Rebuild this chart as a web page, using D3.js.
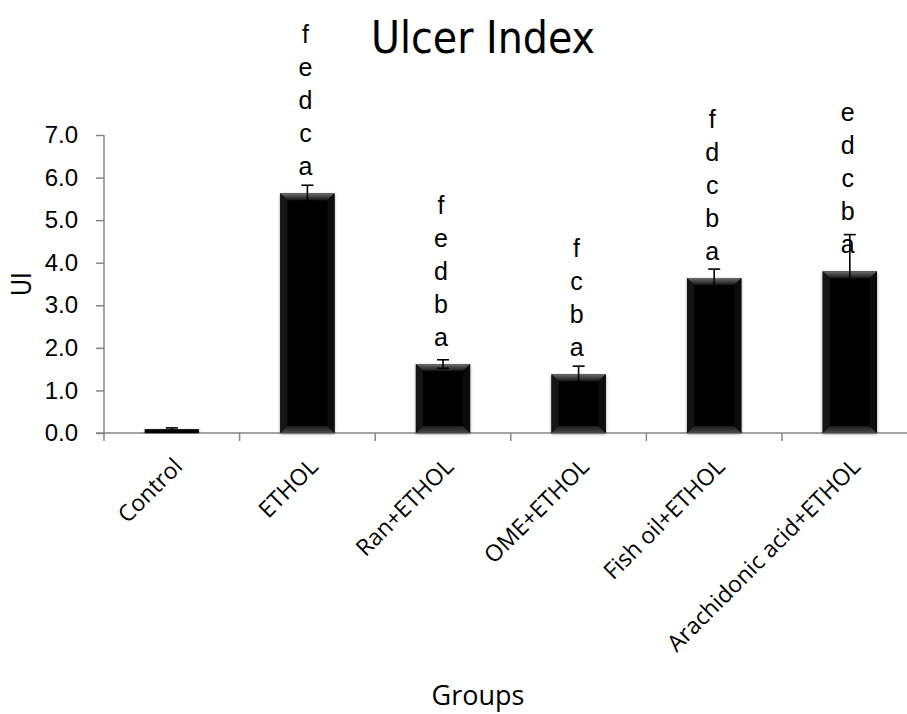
<!DOCTYPE html>
<html>
<head>
<meta charset="utf-8">
<script src="https://cdn.jsdelivr.net/npm/d3@7/dist/d3.min.js"></script>
<style>
  html, body { margin: 0; padding: 0; background: #fff; }
  svg { display: block; }
</style>
</head>
<body>
<svg id="chart" width="907" height="714"></svg>
<script>
// Ulcer index per treatment group (mean with error bars and significance letters)
const groups = ["Control", "ETHOL", "Ran+ETHOL", "OME+ETHOL", "Fish oil+ETHOL", "Arachidonic acid+ETHOL"];
const ulcerIndex = [0.09, 5.63, 1.62, 1.38, 3.64, 3.80];
const errPlus = [0.03, 0.19, 0.10, 0.19, 0.21, 0.86];
const errMinus = [0.03, 0.19, 0.10, 0.19, 0.21, 0.74];
const sigLetters = [[], ["f", "e", "d", "c", "a"], ["f", "e", "d", "b", "a"], ["f", "c", "b", "a"], ["f", "d", "c", "b", "a"], ["e", "d", "c", "b", "a"]];
const yTicks = [0, 1, 2, 3, 4, 5, 6, 7];

const svg = d3.select("#chart");
const width = 907, height = 714;
const x0 = 104, yBase = 433, yTop = 135;
const step = 135.6;

const x = d3.scaleBand()
  .domain(groups)
  .range([x0, x0 + step * groups.length])
  .paddingInner(0.6)
  .paddingOuter(0.3);

const y = d3.scaleLinear().domain([0, 7]).range([yBase, yTop]);

const axisColor = "#868686";
const narrow = "'Liberation Sans Narrow', 'DejaVu Sans Condensed', 'Liberation Sans', sans-serif";
const arial = "'Liberation Sans', Arial, sans-serif";
const sans = "'Open Sans', 'Noto Sans', sans-serif";

// Gradients / filter for the bevelled bars
const defs = svg.append("defs");
const gTop = defs.append("linearGradient").attr("id", "bevelTop").attr("x1", 0).attr("y1", 0).attr("x2", 0).attr("y2", 1);
gTop.append("stop").attr("offset", "0%").attr("stop-color", "#6e6e6e");
gTop.append("stop").attr("offset", "100%").attr("stop-color", "#141414");
const gBot = defs.append("linearGradient").attr("id", "bevelBot").attr("x1", 0).attr("y1", 0).attr("x2", 0).attr("y2", 1);
gBot.append("stop").attr("offset", "0%").attr("stop-color", "#1a1a1a");
gBot.append("stop").attr("offset", "100%").attr("stop-color", "#4a4a4a");
const shadow = defs.append("filter").attr("id", "barShadow").attr("x", "-20%").attr("y", "-20%").attr("width", "140%").attr("height", "140%");
shadow.append("feDropShadow").attr("dx", 0).attr("dy", 1).attr("stdDeviation", 1.6)
  .attr("flood-color", "#000").attr("flood-opacity", 0.45);

// Title
svg.append("text")
  .attr("x", 483).attr("y", 53)
  .attr("text-anchor", "middle")
  .attr("font-family", narrow)
  .attr("font-size", 44)
  .attr("fill", "#000")
  .text("Ulcer Index");

// Y axis
const yAxis = svg.append("g").attr("transform", `translate(${x0},0)`)
  .call(d3.axisLeft(y).tickValues(yTicks).tickFormat(d3.format(".1f")).tickSize(8).tickPadding(18));
yAxis.select(".domain").attr("stroke", axisColor).attr("stroke-width", 1.5).attr("d", `M0,${yTop}V${yBase}`);
yAxis.selectAll(".tick line").attr("stroke", axisColor).attr("stroke-width", 1.5);
yAxis.selectAll(".tick text")
  .attr("font-family", arial)
  .attr("font-size", 24).attr("fill", "#000");

// Y axis title
svg.append("text")
  .attr("transform", `translate(31,${(yBase + yTop) / 2}) rotate(-90)`)
  .attr("text-anchor", "middle")
  .attr("font-family", narrow)
  .attr("font-size", 26)
  .text("UI");

// X axis line and category boundary ticks
const boundaries = d3.range(groups.length + 1).map(i => x0 + i * x.step());
svg.append("line")
  .attr("x1", x0 - 8).attr("x2", width).attr("y1", yBase).attr("y2", yBase)
  .attr("stroke", axisColor).attr("stroke-width", 1.5);
svg.selectAll(".xtick").data(boundaries).join("line")
  .attr("class", "xtick")
  .attr("x1", d => d).attr("x2", d => d)
  .attr("y1", yBase).attr("y2", yBase + 8)
  .attr("stroke", axisColor).attr("stroke-width", 1.5);

// Bars with bevel
const data = groups.map((g, i) => ({ g, v: ulcerIndex[i], ep: errPlus[i], em: errMinus[i], letters: sigLetters[i] }));
const bars = svg.selectAll(".bar").data(data).join("g").attr("class", "bar");
bars.each(function (d) {
  const gsel = d3.select(this);
  const bx = x(d.g), bw = x.bandwidth();
  const by = y(d.v), bh = yBase - by;
  const bev = Math.min(7, bh / 2);
  gsel.append("rect")
    .attr("x", bx).attr("y", by).attr("width", bw).attr("height", bh)
    .attr("fill", "#050505").attr("filter", "url(#barShadow)");
  if (bh > 4) {
    gsel.append("polygon")
      .attr("points", [[bx, by], [bx + bw, by], [bx + bw - bev, by + bev], [bx + bev, by + bev]].map(p => p.join(",")).join(" "))
      .attr("fill", "url(#bevelTop)");
    gsel.append("polygon")
      .attr("points", [[bx, yBase], [bx + bw, yBase], [bx + bw - bev, yBase - bev], [bx + bev, yBase - bev]].map(p => p.join(",")).join(" "))
      .attr("fill", "url(#bevelBot)");
    gsel.append("polygon")
      .attr("points", [[bx, by], [bx + bev, by + bev], [bx + bev, yBase - bev], [bx, yBase]].map(p => p.join(",")).join(" "))
      .attr("fill", "#151515");
    gsel.append("polygon")
      .attr("points", [[bx + bw, by], [bx + bw - bev, by + bev], [bx + bw - bev, yBase - bev], [bx + bw, yBase]].map(p => p.join(",")).join(" "))
      .attr("fill", "#0c0c0c");
  }
});

// Error bars
const capW = 6;
bars.each(function (d) {
  const gsel = d3.select(this);
  const cx = x(d.g) + x.bandwidth() / 2;
  const hi = y(d.v + d.ep), lo = y(d.v - d.em);
  gsel.append("line").attr("x1", cx).attr("x2", cx).attr("y1", hi).attr("y2", lo)
    .attr("stroke", "#000").attr("stroke-width", 1.6);
  [hi, lo].forEach(yy => {
    gsel.append("line").attr("x1", cx - capW).attr("x2", cx + capW).attr("y1", yy).attr("y2", yy)
      .attr("stroke", "#000").attr("stroke-width", 1.6);
  });
});

// Significance letters stacked above each bar
const lineGap = 33;
bars.each(function (d) {
  const cx = x(d.g) + x.bandwidth() / 2 - 2;
  const n = d.letters.length;
  d3.select(this).selectAll("text.sig").data(d.letters).join("text")
    .attr("class", "sig")
    .attr("x", cx)
    .attr("y", (l, i) => y(d.v) - 18 - (n - 1 - i) * lineGap)
    .attr("text-anchor", "middle")
    .attr("font-family", arial)
    .attr("font-size", 25)
    .attr("fill", "#000")
    .text(l => l);
});

// Category labels, rotated
svg.selectAll(".xlabel").data(groups).join("text")
  .attr("class", "xlabel")
  .attr("transform", g => `translate(${x(g) + x.bandwidth() / 2 + 12},${yBase + 35}) rotate(-45)`)
  .attr("text-anchor", "end")
  .attr("font-family", sans)
  .attr("font-size", 23)
  .attr("fill", "#000")
  .text(g => g);

// X axis title
svg.append("text")
  .attr("x", 478).attr("y", 705)
  .attr("text-anchor", "middle")
  .attr("font-family", sans)
  .attr("font-size", 27)
  .text("Groups");
</script>
</body>
</html>
